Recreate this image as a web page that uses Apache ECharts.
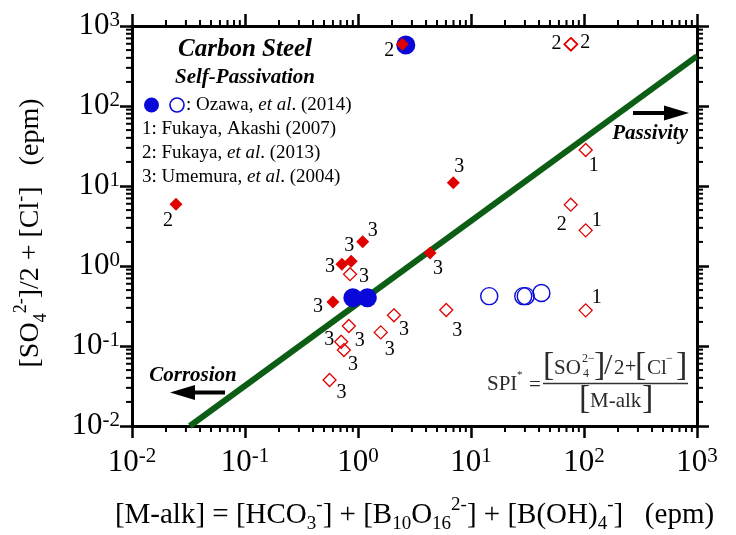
<!DOCTYPE html>
<html>
<head>
<meta charset="utf-8">
<script src="https://cdn.jsdelivr.net/npm/echarts@6/dist/echarts.min.js"></script>
<style>
  html, body { margin: 0; padding: 0; background: #fff; }
  #chart { width: 736px; height: 535px; }
</style>
</head>
<body>
<div id="chart"></div>
<script>
// ---- Data -------------------------------------------------------------
// Ozawa et al. (2014): filled = self-passivated, open = corroded
const ozawaPassiveX = [2.65, 0.90, 1.21];
const ozawaPassiveY = [580, 0.40, 0.40];
const ozawaCorrodedX = [14.5, 29, 30.5, 42];
const ozawaCorrodedY = [0.42, 0.42, 0.42, 0.46];

// Literature data (reference number shown beside each mark)
const litPassiveX = [2.47, 0.0245, 1.10, 0.72, 0.87, 0.60, 6.97, 4.34];
const litPassiveY = [590, 5.9, 2.01, 1.05, 1.15, 0.355, 11.0, 1.45];
const litPassiveRef = ['2', '2', '3', '3', '3', '3', '3', '3'];

const litCorrodedX = [76, 77, 103.5, 76.3, 103.5, 103.5, 6.04, 2.08, 1.59, 0.85, 0.83, 0.71, 0.75, 0.56];
const litCorrodedY = [590, 590, 28.2, 5.84, 2.79, 0.279, 0.282, 0.242, 0.148, 0.79, 0.178, 0.113, 0.089, 0.0376];
const litCorrodedRef = ['2', '2', '1', '2', '1', '1', '3', '3', '3', '3', '3', '3', '3', '3'];

// SPI boundary between corrosion and passivity
const boundaryX = [0.0325, 1000];
const boundaryY = [0.01, 420];

// Axis decades and log minor tick multipliers
const axisMin = 0.01, axisMax = 1000;
const decadeExponents = [-2, -1, 0, 1, 2, 3];
const minorMultipliers = [2, 3, 4, 5, 6, 7, 8, 9];

// ---- Label placement (pixel offsets from each mark) ----------------------
const passiveLabelOffsets = [[-13, 6], [-8, 16], [10, -11], [-12, 2], [-2, -15], [-15, 5], [6, -16], [8, 16]];
const corrodedLabelOffsets = [[-14, -1], [14, -2], [8, 16], [-9, 20], [11, -10], [11, -13], [11, 21],
  [10, 14], [9, 17], [14, 3], [11, 15], [-12, -2], [9, 15], [12, 13]];

const SERIF = "'Liberation Serif', 'DejaVu Serif', serif";
const RED = '#e10000';
const BLUE = '#0808d8';
const GREEN = '#0b5e14';
const INK = '#2a2a2a';

function pairs(xs, ys) { return xs.map((x, i) => [x, ys[i]]); }

function labelled(xs, ys, refs, offsets) {
  return xs.map((x, i) => ({
    value: [x, ys[i]],
    label: { show: true, formatter: refs[i], offset: offsets[i] }
  }));
}

const decadeLabel = v => {
  const e = Math.round(Math.log10(v));
  return decadeExponents.includes(e) ? '{b|10}{s|' + e + '}' : '';
};
const tickRich = {
  b: { fontFamily: SERIF, fontSize: 31, color: '#000', lineHeight: 33 },
  s: { fontFamily: SERIF, fontSize: 21, color: '#000', lineHeight: 21, verticalAlign: 'top' }
};
function nameRich(size, small) {
  return {
    n: { fontFamily: SERIF, fontSize: size, color: '#000', lineHeight: 38 },
    b: { fontFamily: SERIF, fontSize: small, color: '#000', lineHeight: small, verticalAlign: 'bottom' },
    p: { fontFamily: SERIF, fontSize: small, color: '#000', lineHeight: small, verticalAlign: 'top' }
  };
}

function axisBase(position, showLabel) {
  return {
    type: 'log', logBase: 10, min: axisMin, max: axisMax, position: position,
    axisLine: { show: true, onZero: false, lineStyle: { color: '#000', width: 3 } },
    axisTick: { show: true, inside: false, length: 12, lineStyle: { color: '#000', width: 2.5 } },
    axisLabel: { show: showLabel, formatter: decadeLabel, rich: tickRich },
    splitLine: { show: false },
    minorTick: { show: false }
  };
}

const xBottom = axisBase('bottom', true);
xBottom.axisLabel.margin = 20;
xBottom.name = '{n|[M-alk] = [HCO}{b|3}{p|-}{n|] + [B}{b|10}{n|O}{b|16}{p|2-}{n|] + [B(OH)}{b|4}{p|-}{n|]   (epm)}';
xBottom.nameLocation = 'middle';
xBottom.nameGap = 70;
xBottom.nameTextStyle = { rich: nameRich(29, 19) };

const yLeft = axisBase('left', true);
yLeft.axisLabel.margin = 12;
yLeft.name = '{n|[SO}{b|4}{p|2-}{n|]/2 + [Cl}{p|-}{n|]   (epm)}';
yLeft.nameLocation = 'middle';
yLeft.nameRotate = 90;
yLeft.nameGap = 82;
yLeft.nameTextStyle = { rich: nameRich(28, 18), padding: [0, 14, 0, 0] };

// Log-spaced minor ticks drawn outward on all four frame sides
function renderMinorTicks(params, api) {
  const children = [];
  const lo = api.coord([axisMin, axisMin]);
  const hi = api.coord([axisMax, axisMax]);
  const left = lo[0], bottom = lo[1], right = hi[0], top = hi[1];
  const style = { stroke: '#000', lineWidth: 2 };
  decadeExponents.slice(0, -1).forEach(e => {
    minorMultipliers.forEach(m => {
      const v = m * Math.pow(10, e);
      const px = api.coord([v, axisMin])[0];
      const py = api.coord([axisMin, v])[1];
      children.push({ type: 'line', shape: { x1: px, y1: bottom, x2: px, y2: bottom + 6 }, style });
      children.push({ type: 'line', shape: { x1: px, y1: top, x2: px, y2: top - 6 }, style });
      children.push({ type: 'line', shape: { x1: left, y1: py, x2: left - 6, y2: py }, style });
      children.push({ type: 'line', shape: { x1: right, y1: py, x2: right + 6, y2: py }, style });
    });
  });
  return { type: 'group', children };
}

const pointLabel = { color: '#000', fontFamily: SERIF, fontSize: 20, position: 'inside', align: 'center', verticalAlign: 'middle' };

function txt(x, y, text, font, extra) {
  return { type: 'text', x: x, y: y, style: Object.assign({ text: text, font: font, fill: '#000', verticalAlign: 'middle' }, extra || {}) };
}
function refLine(x, y, a, b, c) {
  return {
    type: 'text', x: x, y: y, style: {
      text: '{n|' + a + '}{i|' + b + '}{n|' + c + '}', verticalAlign: 'middle',
      rich: { n: { font: `19px ${SERIF}`, fill: '#000' }, i: { font: `italic 19px ${SERIF}`, fill: '#000' } }
    }
  };
}

const chart = echarts.init(document.getElementById('chart'), null, { renderer: 'canvas' });
chart.setOption({
  animation: false,
  backgroundColor: '#fff',
  grid: { left: 132, right: 39, top: 26, bottom: 109, containLabel: false, outerBoundsMode: 'none' },
  xAxis: [xBottom, axisBase('top', false)],
  yAxis: [yLeft, axisBase('right', false)],
  series: [
    {
      type: 'line', data: pairs(boundaryX, boundaryY), symbol: 'none', silent: true,
      lineStyle: { color: GREEN, width: 6, cap: 'butt' }, z: 2
    },
    {
      type: 'scatter', data: pairs(ozawaPassiveX, ozawaPassiveY), symbol: 'circle', symbolSize: 19,
      itemStyle: { color: BLUE, opacity: 1 }, silent: true, z: 3
    },
    {
      type: 'scatter', data: pairs(ozawaCorrodedX, ozawaCorrodedY), symbol: 'circle', symbolSize: 17,
      itemStyle: { color: 'rgba(0,0,0,0)', borderColor: BLUE, borderWidth: 1.4, opacity: 1 }, silent: true, z: 3
    },
    {
      type: 'scatter', data: labelled(litPassiveX, litPassiveY, litPassiveRef, passiveLabelOffsets),
      symbol: 'diamond', symbolSize: 13, itemStyle: { color: RED, opacity: 1 }, label: pointLabel, silent: true, z: 4
    },
    {
      type: 'scatter', data: labelled(litCorrodedX, litCorrodedY, litCorrodedRef, corrodedLabelOffsets),
      symbol: 'diamond', symbolSize: 13,
      itemStyle: { color: 'rgba(0,0,0,0)', borderColor: RED, borderWidth: 1.3, opacity: 1 },
      label: pointLabel, silent: true, z: 4
    },
    {
      type: 'custom', data: [[axisMin, axisMin]], renderItem: renderMinorTicks, clip: false, silent: true, z: 5
    }
  ],
  graphic: [
    // Legend block
    txt(245, 50, 'Carbon Steel', `italic bold 25px ${SERIF}`, { align: 'center' }),
    txt(245, 78, 'Self-Passivation', `italic bold 21px ${SERIF}`, { align: 'center' }),
    { type: 'circle', shape: { cx: 151.5, cy: 105, r: 7.5 }, style: { fill: BLUE } },
    { type: 'circle', shape: { cx: 177, cy: 105, r: 7 }, style: { fill: 'none', stroke: BLUE, lineWidth: 1.6 } },
    refLine(186, 105, ': Ozawa, ', 'et al', '. (2014)'),
    txt(142, 129, '1: Fukaya, Akashi (2007)', `19px ${SERIF}`),
    refLine(142, 153, '2: Fukaya, ', 'et al', '. (2013)'),
    refLine(142, 177, '3: Umemura, ', 'et al', '. (2004)'),

    // Passivity arrow
    { type: 'line', shape: { x1: 633, y1: 113, x2: 668, y2: 113 }, style: { stroke: '#000', lineWidth: 4 } },
    { type: 'polygon', shape: { points: [[664, 105.5], [689, 113], [664, 120.5]] }, style: { fill: '#000' } },
    txt(688, 134, 'Passivity', `italic bold 21px ${SERIF}`, { align: 'right' }),

    // Corrosion arrow
    { type: 'line', shape: { x1: 191, y1: 392.5, x2: 225, y2: 392.5 }, style: { stroke: '#000', lineWidth: 4 } },
    { type: 'polygon', shape: { points: [[195, 385], [170, 392.5], [195, 400]] }, style: { fill: '#000' } },
    txt(193, 376, 'Corrosion', `italic bold 21px ${SERIF}`, { align: 'center' }),

    // SPI* definition
    txt(487, 384, 'SPI', `21px ${SERIF}`, { fill: INK }),
    txt(517, 375, '*', `11px ${SERIF}`, { fill: INK }),
    txt(529, 385, '=', `21px ${SERIF}`, { fill: INK }),
    { type: 'line', shape: { x1: 543, y1: 383.5, x2: 688, y2: 383.5 }, style: { stroke: '#333', lineWidth: 1.3 } },
    txt(543, 366, '[', `34px ${SERIF}`, { fill: INK }),
    txt(554, 368, 'SO', `21px ${SERIF}`, { fill: INK }),
    txt(582, 359, '2\u2212', `12px ${SERIF}`, { fill: INK }),
    txt(583, 374, '4', `12px ${SERIF}`, { fill: INK }),
    txt(594, 366, ']', `34px ${SERIF}`, { fill: INK }),
    txt(604, 366, '/', `30px ${SERIF}`, { fill: INK }),
    txt(614, 368, '2', `21px ${SERIF}`, { fill: INK }),
    txt(625, 368, '+', `20px ${SERIF}`, { fill: INK }),
    txt(635, 366, '[', `34px ${SERIF}`, { fill: INK }),
    txt(647, 368, 'Cl', `21px ${SERIF}`, { fill: INK }),
    txt(666, 359, '\u2212', `12px ${SERIF}`, { fill: INK }),
    txt(676, 366, ']', `34px ${SERIF}`, { fill: INK }),
    txt(579, 399, '[', `34px ${SERIF}`, { fill: INK }),
    txt(590, 401, 'M-alk', `21px ${SERIF}`, { fill: INK }),
    txt(642, 399, ']', `34px ${SERIF}`, { fill: INK })
  ]
});
</script>
</body>
</html>
